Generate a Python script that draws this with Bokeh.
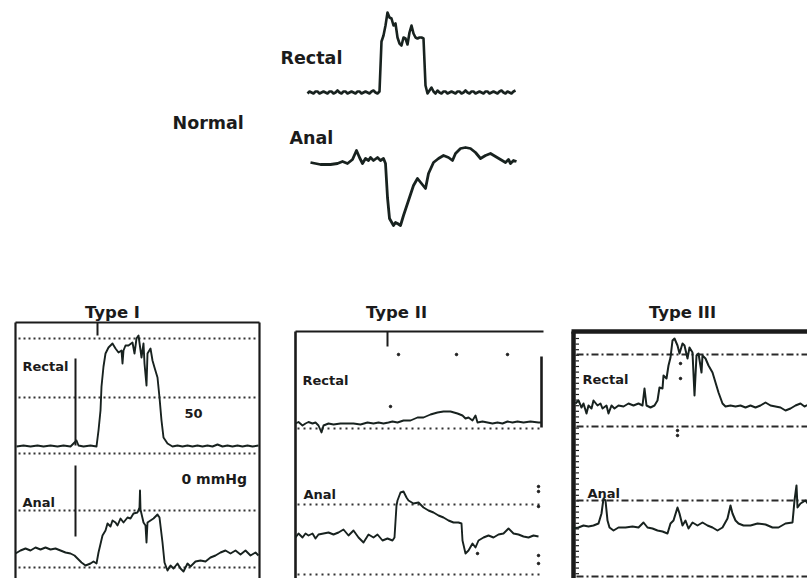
import numpy as np
from bokeh.plotting import figure
from bokeh.models import Range1d
from bokeh.core.properties import value
from bokeh.embed import file_html
from bokeh.resources import INLINE

# ---------------- data ----------------
# pressures (relative units, up = positive) and sample times (relative units)
normal_rectal_p = [0, 2, 1, 0, 2, 2, 0, 1, 2, 1, 0, 2, 2, 0, 1, 3, 1, 0, 2, 2,
                   0, 1, 2, 1, 0, 2, 2, 0, 1, 2, 1, 0, 2, 3, 1, 0, 2,
                   52,
                   58, 68, 81, 76, 75, 68, 70, 56, 50, 48, 56, 55, 49, 61, 68, 60,
                   56, 55, 56, 56, 55, 8, 0,
                   3, 6, 2, 0, 3, 1, 0, 2, 2, 0, 1, 2, 1, 0, 2, 2, 0, 1, 3, 1,
                   0, 2, 2, 0, 1, 2, 1, 0, 2, 2, 0, 1, 2, 1, 0, 2, 3, 1, 0, 2,
                   1, 0, 2, 3]
normal_rectal_t = [2 * i for i in range(len(normal_rectal_p))]

normal_anal_t = [0, 10, 20, 27, 32, 37, 42, 46, 49, 52, 55, 58, 60, 63, 67, 70, 73,
                 75, 77, 79, 83, 85, 87, 90, 93, 98, 103, 107, 111, 115, 118, 123,
                 128, 133, 138, 142, 145, 150, 155, 160, 165, 170, 175, 180, 185,
                 190, 195, 198, 200, 203, 206]
normal_anal_p = [-2, -4, -4, -3, -1, -3, 1, 10, 3, -3, 2, 0, 3, 0, 3, 0, 2,
                 -3, -37, -58, -65, -62, -63, -65, -55, -40, -25, -18, -23, -28, -13, -2,
                 2, 5, 3, 0, 7, 12, 13, 12, 8, 2, 5, 7, 4,
                 1, -2, 1, -3, 0, -1]

type1_rectal_t = [0, 7, 14, 21, 27, 34, 41, 47, 54, 57, 60, 62, 67, 74, 80, 82, 84,
                  85, 87, 89, 92, 96, 99, 102, 105, 106, 107, 109, 112, 116, 118,
                  120, 122, 125, 127, 128, 130, 131, 134, 136, 138, 141, 143, 145,
                  147, 151, 156, 161, 166, 171, 176, 181, 186, 191, 196, 201, 206,
                  211, 216, 221, 226, 231, 236, 242]
type1_rectal_p = [0, 1, 0, 1, 0, 1, 0, 1, 0, 3, 6, 1, 0, 1, 0, 16, 36,
                  60, 80, 93, 99, 103, 98, 94, 96, 83, 96, 101, 101, 104, 93,
                  108, 111, 89, 103, 83, 61, 93, 98, 86, 79, 69, 49, 26,
                  9, 3, 0, 1, 0, 1, 0, 1, 0, 1, 0, 2, 0,
                  1, 0, 1, 0, 1, 0, 1]

type1_anal_t = [0, 5, 10, 15, 20, 25, 30, 35, 40, 45, 50, 55, 59, 62, 66, 70, 75,
                78, 81, 83, 87, 90, 92, 95, 97, 100, 102, 105, 108, 112, 115, 118,
                122, 124, 124.5, 125, 128, 130, 131, 132, 135, 138, 142, 144, 147,
                149, 152, 155, 158, 162, 165, 168, 172, 175, 180, 185, 190, 195,
                200, 205, 210, 215, 220, 225, 230, 235, 240, 243]
type1_anal_p = [15, 18, 20, 18, 21, 19, 21, 19, 20, 18, 16, 15, 13, 10, 6, 3, 5,
                7, 5, 16, 33, 38, 45, 42, 48, 46, 43, 50, 46, 51, 50, 55,
                56, 61, 78, 59, 46, 43, 26, 46, 48, 50, 54, 51, 26,
                6, -2, 3, 0, 5, 0, -3, 5, 2, 7, 8, 7, 11,
                13, 16, 18, 15, 18, 14, 18, 13, 16, 13]

type2_rectal_t = [0, 3, 7, 10, 13, 17, 20, 23, 26, 28, 33, 38, 45, 52, 58, 65, 72,
                  78, 83, 88, 93, 97, 102, 108, 115, 122, 128, 135, 142, 148, 155,
                  162, 167, 170, 173, 177, 180, 182, 187, 192, 197, 202, 207, 212,
                  217, 222, 228, 235, 243, 246]
type2_rectal_p = [0, 1.5, -2, 0, 1.5, 0, 1, -2, -9, -2, 0, -1, 0, 0, 0, -1, 1,
                  0, 1, 0, 1, 2, 1, 3, 3, 6, 6, 9, 11, 12, 12,
                  10, 8, 5, 6, 3, 8, 1, 2, 1, 0, 1, 0, 2,
                  1, 2, 1, 2, 1, 1]

type2_anal_t = [0, 3, 7, 10, 13, 17, 20, 23, 28, 33, 38, 43, 48, 53, 58, 63, 68,
                73, 78, 82, 87, 92, 97, 99, 101, 102, 105, 108, 111, 113, 118,
                123, 128, 133, 138, 143, 148, 153, 158, 163, 166, 167, 170, 173,
                177, 180, 183, 188, 193, 198, 203, 208, 213, 218, 223, 228, 233,
                238, 243]
type2_anal_p = [-33, -29, -33, -29, -31, -29, -34, -30, -29, -28, -30, -28, -25,
                -31, -26, -33, -38, -30, -33, -30, -36, -34, -36, -33, -1, 4,
                12, 13, 7, 4, 1, 2, -3, -6, -8, -11, -13, -16, -18, -18,
                -19, -36, -49, -46, -39, -43, -36, -33, -31, -33,
                -30, -29, -24, -29, -30, -32, -33, -31, -32]

type3_rectal_t = [0, 3, 6, 8, 11, 13, 16, 18, 22, 25, 27, 31, 33, 36, 39, 43, 48,
                  53, 58, 63, 67, 69, 71, 75, 79, 82, 84, 87, 88, 91, 93, 95, 97,
                  99, 102, 104, 107, 109, 112, 114, 117, 119, 121, 123, 126, 127,
                  130, 133, 137, 140, 143, 147, 150, 155, 160, 165, 170, 175, 180,
                  185, 190, 195, 200, 205, 210, 215, 220, 225, 229, 233]
type3_rectal_p = [22, 25, 18, 22, 12, 20, 17, 25, 20, 22, 17, 20, 12, 20, 17, 20,
                  19, 22, 20, 22, 20, 37, 20, 18, 20, 25, 38, 37, 50, 47,
                  60, 68, 85, 87, 80, 72, 82, 80, 67, 78, 73, 30, 70, 72, 53, 70,
                  67, 60, 53, 43, 33, 22, 19, 20, 19, 20, 18, 20, 18, 20,
                  23, 20, 19, 18, 15, 17, 20, 22, 19, 21]

type3_anal_t = [0, 5, 10, 15, 20, 25, 28, 30, 32, 34, 36, 40, 45, 52, 59, 65, 70,
                74, 79, 84, 89, 94, 97, 100, 104, 106, 109, 112, 115, 119, 124,
                129, 134, 139, 144, 149, 154, 157, 159, 162, 165, 170, 177, 184,
                192, 199, 205, 212, 219, 221, 223, 224, 227, 232, 235]
type3_anal_p = [-28, -27, -25, -26, -25, -23, -13, 2, 0, -20, -27, -30, -27, -27,
                -26, -27, -22, -27, -28, -30, -31, -33, -23, -20, -7, -13, -25,
                -20, -28, -22, -25, -22, -25, -27, -30, -27, -18, -5, -13, -20,
                -23, -25, -25, -23, -24, -27, -27, -23, -22, 0, 15, -7, -3, 0, -4]

big_labels = ["Normal", "Rectal", "Anal"]
titles = ["Type I", "Type II", "Type III"]
panel_labels = ["Rectal", "Anal"]

# ---------------- figure ----------------
W, H = 807, 578
X_LO, Y_TOP = 0, 0
TRACE = "#18221f"
INK = "#1b1b1b"
FONT = value("DejaVu Sans")

p = figure(width=W, height=H, x_range=Range1d(X_LO, X_LO + W),
           y_range=Range1d(Y_TOP + H, Y_TOP), output_backend="svg",
           toolbar_location=None, x_axis_location=None, y_axis_location=None,
           min_border=0)
p.outline_line_color = None
p.grid.visible = False
p.background_fill_color = "white"

# channel placement: (time origin x, zero-pressure y, line width)
channels = {
    "normal_rectal": (normal_rectal_t, normal_rectal_p, 307, 93, 2.6),
    "normal_anal": (normal_anal_t, normal_anal_p, 310, 160, 2.8),
    "t1_rectal": (type1_rectal_t, type1_rectal_p, 16, 446, 1.9),
    "t1_anal": (type1_anal_t, type1_anal_p, 15, 568, 1.9),
    "t2_rectal": (type2_rectal_t, type2_rectal_p, 295, 423, 1.9),
    "t2_anal": (type2_anal_t, type2_anal_p, 295, 504, 1.9),
    "t3_rectal": (type3_rectal_t, type3_rectal_p, 575, 425, 2.0),
    "t3_anal": (type3_anal_t, type3_anal_p, 573, 500, 2.0),
}
xr, yr = {}, {}
for name, (t, v, x0, y0, lw) in channels.items():
    xr[name] = Range1d(X_LO - x0, X_LO + W - x0)
    yr[name] = Range1d(y0 - (Y_TOP + H), y0 - Y_TOP)
p.extra_x_ranges = xr
p.extra_y_ranges = yr

# ---- panel frames, reference lines, markers ----
def seg(x0, y0, x1, y1, w=2, dash="solid", color=INK):
    p.segment(x0=[x0], y0=[y0], x1=[x1], y1=[y1], line_width=w,
              line_color=color, line_dash=dash)

BOT = Y_TOP + H
RIGHT = X_LO + W
# Type I
seg(15, 322, 259, 322, 2.2)
seg(15, 322, 15, BOT, 2.2)
seg(259, 322, 259, BOT, 2.2)
seg(97, 322, 97, 335, 2)
for yy in (338, 397, 453, 510, 567):
    seg(18, yy, 257, yy, 2, "2 3", "#333333")
seg(75, 358, 75, 445, 2)
seg(75, 465, 75, 536, 2)
# Type II
seg(295, 331, 543, 331, 2.2)
seg(295, 331, 295, BOT, 2.6)
seg(387, 331, 387, 346, 2)
seg(541, 356, 541, 427, 2.6)
for yy in (428, 504, 574):
    seg(297, yy, 540, yy, 2, "2 4", "#333333")
p.scatter([398, 456, 507, 390, 538, 538, 538, 538, 538, 477],
          [354, 354, 354, 406, 486, 491, 506, 555, 563, 553],
          size=2.5, color=INK)
# Type III
seg(571, 331, RIGHT, 331, 4.5)
seg(573, 331, 573, BOT, 4.5)
ticks_y = list(np.arange(338, BOT, 5.6))
p.segment(x0=[575] * len(ticks_y), y0=ticks_y, x1=[578.5] * len(ticks_y),
          y1=ticks_y, line_width=1.2, line_color=INK)
for yy in (354, 426, 500, 576):
    seg(576, yy, RIGHT, yy, 2, "7 3 2 3", "#2a2a2a")
p.scatter([680, 680, 677, 677], [363, 378, 430, 435], size=2.5, color=INK)

# ---- traces ----
for name, (t, v, x0, y0, lw) in channels.items():
    p.line(t, v, x_range_name=name, y_range_name=name, line_width=lw,
           line_color=TRACE, line_join="round")

# ---- texts ----
p.text(x=[172, 280, 289], y=[122, 57, 137], text=big_labels,
       text_font=FONT, text_font_style="bold", text_font_size="17.5px",
       text_color=INK, text_baseline="alphabetic", text_align="left")
p.text(x=[112, 396, 682], y=[312, 312, 312], text=titles,
       text_font=FONT, text_font_style="bold", text_font_size="16.5px",
       text_color=INK, text_baseline="alphabetic", text_align="center")
p.text(x=[22, 22, 302, 303, 582, 587], y=[366, 502, 380, 494, 379, 493],
       text=panel_labels * 3,
       text_font=FONT, text_font_style="bold", text_font_size="13px",
       text_color=INK, text_baseline="alphabetic", text_align="left")
p.text(x=[181], y=[478], text=["0 mmHg"], text_font=FONT,
       text_font_style="bold", text_font_size="14px", text_color=INK,
       text_baseline="alphabetic", text_align="left")
p.text(x=[193], y=[413], text=["50"], text_font=FONT,
       text_font_style="bold", text_font_size="13px", text_color=INK,
       text_baseline="alphabetic", text_align="center")

open("out.html", "w").write(file_html(p, INLINE))
